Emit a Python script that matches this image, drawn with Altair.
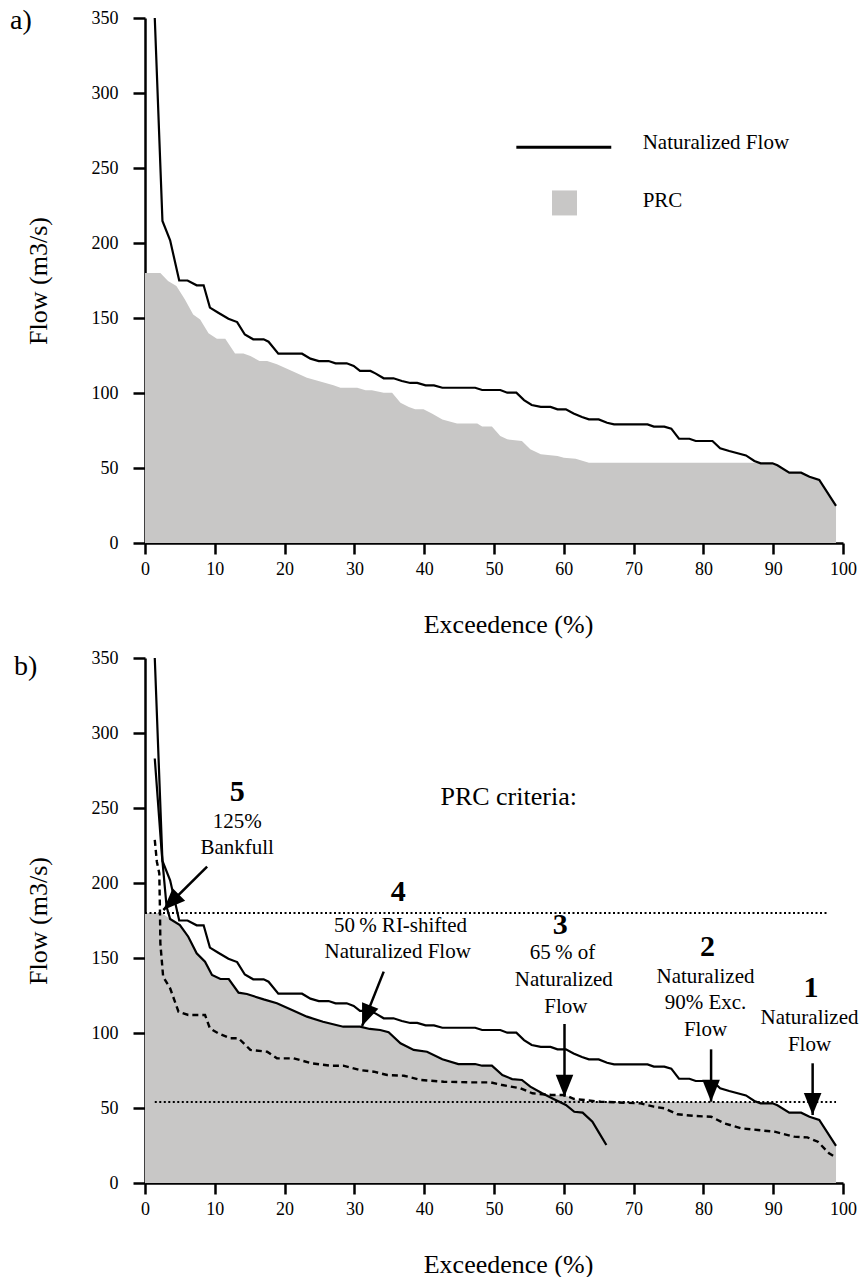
import altair as alt
import pandas as pd

FONT = "Liberation Serif"
GREY = "#c8c7c6"

# ---------------- data ----------------
# Naturalized flow duration curve (both panels)
nat_x = [1.4, 2.5, 3.6, 4.9, 6.1, 7.4, 8.4, 9.3, 10.5, 11.95, 13.2, 14.3, 15.5, 17, 17.7, 19.1,
         22.5, 23.7, 24.9, 26.3, 27.3, 28.9, 29.9, 30.8, 32.3, 33, 34.2, 35.6, 36.8, 38, 39, 40.2,
         41.4, 42.6, 47.3, 48.3, 50.9, 51.9, 53.2, 54.3, 55.4, 56.7, 58.1, 59.1, 60.3, 61.4, 62.6,
         63.6, 65, 66.2, 67.2, 72, 72.9, 74.4, 75.4, 76.5, 78, 78.9, 81.3, 82.4, 83.7, 86.1, 87.3,
         88.2, 89.9, 90.6, 92.3, 94, 95.2, 96.6, 99]
nat_y = [350, 214.7, 201.8, 175, 175, 171.8, 171.8, 156.9, 153.5, 149.5, 147.3, 139, 135.8, 135.8,
         134.2, 126.2, 126.2, 122.9, 121.3, 121.3, 119.8, 119.8, 118, 114.7, 114.7, 113.1, 109.8,
         109.8, 108, 106.7, 106.7, 105.1, 105.1, 103.5, 103.5, 102, 102, 100.2, 100.2, 95.3, 92,
         90.7, 90.7, 89.1, 89.1, 86.4, 84, 82.4, 82.4, 80.2, 79.1, 79.1, 77.6, 77.6, 76.2, 69.5,
         69.5, 68, 68, 63.1, 61.3, 58.4, 54.7, 53.1, 53.1, 51.8, 46.9, 46.9, 44.2, 42, 24.7]

# PRC, panel a
prc_a_x = [0, 2.2, 3.3, 4.5, 5.7, 6.9, 7.9, 9.1, 10.3, 11.5, 12.9, 14.1, 15.1, 16.4, 17.5, 18.9,
           21.3, 23.2, 24.6, 27, 28, 30.4, 31.6, 32.5, 34.2, 35.4, 36.6, 37.8, 38.7, 39.9, 41.1,
           42.6, 44.7, 47.6, 48.3, 49.7, 50.9, 51.9, 54, 55.2, 56.7, 59.1, 60, 61.7, 63.6, 87.3,
           88.2, 89.9, 90.6, 92.3, 94, 95.2, 96.6, 99]
prc_a_y = [180, 180, 174.7, 171.3, 162.5, 152.4, 149, 139.8, 136.2, 136.2, 126.4, 126.4, 124.7,
           121.3, 121.3, 119.1, 114.2, 110.2, 108.4, 105.1, 103.5, 103.5, 101.8, 101.8, 100.2,
           100.2, 93.5, 90.7, 89.1, 89.1, 86.4, 82.4, 79.6, 79.6, 77.6, 77.6, 71.3, 69.1, 68, 62.5,
           59.1, 58, 56.9, 56.2, 53.5, 53.5, 53.1, 53.1, 51.8, 46.9, 46.9, 44.2, 42, 24.7]

# 50% RI-shifted naturalized flow (panel b)
ri_x = [1.4, 2.4, 3.1, 3.6, 5, 6.2, 7.4, 8.6, 9.6, 10.8, 12, 13.4, 14.6, 17, 18.9, 21.3, 23.2,
        25.5, 28.4, 30.8, 32.2, 33.7, 34.9, 36.6, 38.5, 40.4, 42.6, 44.9, 47.3, 48.3, 49.7, 51.2,
        52.6, 54, 55.2, 56.9, 58.6, 60.3, 61.5, 62.7, 64.1, 65.1, 66.1]
ri_y = [283, 219.8, 184, 176, 172, 164.2, 153.1, 147.5, 138.7, 136, 136, 126.9, 126, 122.4, 119.8,
        114.9, 110.9, 107.5, 104.2, 104.2, 102.7, 102, 100.5, 93.1, 88.7, 87.5, 82.5, 79.3, 79.3,
        78.2, 78.2, 72, 69.3, 68.7, 64.2, 59.8, 55.8, 52, 47.5, 46.9, 40.9, 33.1, 25.3]

# 65% of naturalized flow (dashed, panel b)
p65_x = [1.4, 1.7, 2.05, 2.15, 2.2, 2.6, 3.6, 4.8, 6.2, 8.6, 9.3, 10.5, 12.2, 13.4, 15.1, 17.5,
         18.9, 21.3, 23.9, 26.5, 28.4, 30.8, 32.8, 34.7, 37.1, 39.5, 42.8, 46.6, 49.5, 51.2, 53.8,
         55.5, 58.2, 60.1, 61.5, 65.3, 71, 72.9, 74.4, 76.3, 78.7, 81.1, 83, 85.4, 87.8, 90.2, 93,
         94.9, 96.4, 98, 98.8]
p65_y = [228.7, 214.2, 206.4, 179.8, 159.8, 137.5, 129.8, 114.2, 112, 112, 103.1, 99.8, 96.5,
         96.5, 88.7, 87.5, 83.1, 83.1, 79.8, 78.2, 78.2, 75.3, 74.2, 72, 71.5, 68.7, 67.5, 67.1,
         67.1, 65.3, 63.1, 59.8, 58.7, 58.7, 56, 54.2, 53.1, 50.9, 49.8, 45.8, 44.7, 44.2, 39.8,
         36.5, 35.3, 34.2, 30.9, 30.4, 27.5, 19.8, 17.5]

# PRC, panel b
prc_b_x = [0, 2.4, 3.6, 5, 6.2, 7.4, 8.6, 9.6, 10.8, 12, 13.4, 14.6, 17, 18.9, 21.3, 23.2, 25.5,
           28.4, 30.8, 32.2, 33.7, 34.9, 36.6, 38.5, 40.4, 42.6, 44.9, 47.3, 48.3, 49.7, 51.2,
           52.6, 54, 55.2, 56.9, 58.2, 60.1, 61.5, 62.9, 87.8, 88.2, 89.9, 90.6, 92.3, 94, 95.2,
           96.6, 99]
prc_b_y = [180, 180, 176, 172, 164.2, 153.1, 147.5, 138.7, 136, 136, 126.9, 126, 122.4, 119.8,
           114.9, 110.9, 107.5, 104.2, 104.2, 102.7, 102, 100.5, 93.1, 88.7, 87.5, 82.5, 79.3,
           79.3, 78.2, 78.2, 72, 69.3, 68.7, 64.2, 59.8, 58.7, 58.7, 56, 54, 54, 53.1, 53.1, 51.8,
           46.9, 46.9, 44.2, 42, 24.7]

# criterion levels (dotted): 125% bankfull and naturalized 90% exceedence flow
level_names = ["bankfull125", "nat90"]
level_value = [180, 54]
level_from = [0, 1.4]
level_to = [97.8, 99]

# annotations panel b
num_labels = ["5", "4", "3", "2", "1"]
num_x = [13.2, 36.3, 59.5, 80.6, 95.4]
num_y = [260.9, 194.2, 172.0, 157.5, 129.8]

note_labels = ["125%", "Bankfull", "50\u2009% RI-shifted", "Naturalized Flow", "65\u2009% of",
               "Naturalized", "Flow", "Naturalized", "90% Exc.", "Flow", "Naturalized", "Flow"]
note_x = [13.2, 13.2, 36.6, 36.2, 59.8, 60.0, 60.3, 80.3, 80.3, 80.3, 95.2, 95.2]
note_y = [240.9, 223.1, 171.3, 154.2, 153.1, 135.3, 117.5, 137.1, 119.8, 102.0, 109.8, 92.0]

arrow_tail_x = [8.9, 34.2, 60.1, 81.1, 95.65]
arrow_tail_y = [210.9, 140.9, 106.0, 89.1, 79.8]
arrow_tip_x = [2.63, 31.1, 60.1, 81.1, 95.65]
arrow_tip_y = [182.0, 104.7, 57.5, 54.2, 45.3]
arrow_angle = [45, 21.7, 0, 0, 0]

# legend (panel a)
leg_line_x = [53.2]
leg_line_x2 = [66.8]
leg_line_y = [263.9]
leg_box_x = [60.1]
leg_box_y = [226.7]
leg_text = ["Naturalized Flow", "PRC"]
leg_text_x = [71.3, 71.3]
leg_text_y = [266.8, 227.9]

# ---------------- frames ----------------
nat_df = pd.DataFrame({"x": nat_x, "y": nat_y, "i": range(len(nat_x))})
prc_a_df = pd.DataFrame({"x": prc_a_x, "y": prc_a_y})
prc_b_df = pd.DataFrame({"x": prc_b_x, "y": prc_b_y})
ri_df = pd.DataFrame({"x": ri_x, "y": ri_y, "i": range(len(ri_x))})
p65_df = pd.DataFrame({"x": p65_x, "y": p65_y, "i": range(len(p65_x))})
lvl_df = pd.DataFrame({"name": level_names, "x": level_from, "x2": level_to, "y": level_value})
num_df = pd.DataFrame({"x": num_x, "y": num_y, "t": num_labels})
note_df = pd.DataFrame({"x": note_x, "y": note_y, "t": note_labels})
arr_df = pd.DataFrame({"x": arrow_tail_x, "y": arrow_tail_y, "x2": arrow_tip_x,
                       "y2": arrow_tip_y, "a": arrow_angle})
crit_df = pd.DataFrame({"x": [52.1], "y": [257.5], "t": ["PRC criteria:"]})
leg_line_df = pd.DataFrame({"x": leg_line_x, "x2": leg_line_x2, "y": leg_line_y})
leg_box_df = pd.DataFrame({"x": leg_box_x, "y": leg_box_y})
leg_text_df = pd.DataFrame({"x": leg_text_x, "y": leg_text_y, "t": leg_text})

# ---------------- scales / axes ----------------
xscale = alt.Scale(domain=[0, 100], nice=False, zero=False)
yscale = alt.Scale(domain=[0, 350], nice=False)

xaxis = alt.Axis(values=list(range(0, 101, 10)), title="Exceedence (%)", grid=False,
                 tickSize=11, tickWidth=2.5, tickColor="black", domainWidth=2.5,
                 domainColor="black", labelFont=FONT, labelFontSize=18, labelColor="black",
                 labelPadding=15, labelBaseline="middle", labelFlush=False, labelOverlap=False,
                 titleFont=FONT, titleFontSize=26, titleFontWeight="normal", titleColor="black",
                 titleX=363, titleY=81, titleBaseline="middle", titleAlign="center")
yaxis = alt.Axis(values=list(range(0, 351, 50)), title="Flow (m3/s)", grid=False,
                 tickSize=12, tickWidth=2.5, tickColor="black", domainWidth=2.5,
                 domainColor="black", labelFont=FONT, labelFontSize=18, labelColor="black",
                 labelPadding=15, labelFlush=False, labelOverlap=False,
                 titleFont=FONT, titleFontSize=26, titleFontWeight="normal", titleColor="black",
                 titleX=-107, titleY=262.5, titleAngle=270, titleBaseline="middle",
                 titleAlign="center")


def X(f="x"):
    return alt.X(f"{f}:Q", scale=xscale, axis=xaxis)


def Y(f="y"):
    return alt.Y(f"{f}:Q", scale=yscale, axis=yaxis)


W, H = 698, 525


def label(txt, dx, dy):
    return alt.Chart(pd.DataFrame({"t": [txt]})).mark_text(
        font=FONT, fontSize=28, align="left", baseline="middle", color="black"
    ).encode(x=alt.value(dx), y=alt.value(dy), text="t:N")


def nat_line():
    return alt.Chart(nat_df).mark_line(color="black", strokeWidth=2.2).encode(
        x=X(), y=Y(), order="i:Q")


# ---------------- panel a ----------------
area_a = alt.Chart(prc_a_df).mark_area(color=GREY, opacity=1).encode(x=X(), y=Y())
leg_line = alt.Chart(leg_line_df).mark_rule(color="black", strokeWidth=3).encode(
    x=X(), x2="x2:Q", y=Y())
leg_box = alt.Chart(leg_box_df).mark_square(color=GREY, size=625, opacity=1).encode(x=X(), y=Y())
leg_txt = alt.Chart(leg_text_df).mark_text(
    font=FONT, fontSize=21, align="left", baseline="middle", color="black"
).encode(x=X(), y=Y(), text="t:N")

panel_a = alt.layer(area_a, nat_line(), leg_line, leg_box, leg_txt,
                    label("a)", -135, 3)).properties(width=W, height=H)

# ---------------- panel b ----------------
area_b = alt.Chart(prc_b_df).mark_area(color=GREY, opacity=1).encode(x=X(), y=Y())
levels = alt.Chart(lvl_df).mark_rule(color="black", strokeWidth=2.2,
                                     strokeDash=[2, 2.5]).encode(x=X(), x2="x2:Q", y=Y())
p65 = alt.Chart(p65_df).mark_line(color="black", strokeWidth=2.4, strokeDash=[6, 4]).encode(
    x=X(), y=Y(), order="i:Q")
ri = alt.Chart(ri_df).mark_line(color="black", strokeWidth=2.2).encode(
    x=X(), y=Y(), order="i:Q")
shafts = alt.Chart(arr_df).mark_rule(color="black", strokeWidth=2.5).encode(
    x=X(), y=Y(), x2="x2:Q", y2="y2:Q")
heads = alt.Chart(arr_df).mark_point(
    shape="M0,0 L-0.8,-2 L0.8,-2 Z", filled=True, color="black", opacity=1, size=484,
    strokeWidth=0
).encode(x=X("x2"), y=Y("y2"), angle=alt.Angle("a:Q", scale=None))
nums = alt.Chart(num_df).mark_text(
    font=FONT, fontSize=30, fontWeight="bold", align="center", baseline="middle", color="black"
).encode(x=X(), y=Y(), text="t:N")
notes = alt.Chart(note_df).mark_text(
    font=FONT, fontSize=21, align="center", baseline="middle", color="black"
).encode(x=X(), y=Y(), text="t:N")
crit = alt.Chart(crit_df).mark_text(
    font=FONT, fontSize=26, align="center", baseline="middle", color="black"
).encode(x=X(), y=Y(), text="t:N")

panel_b = alt.layer(area_b, levels, p65, ri, nat_line(), shafts, heads, nums, notes, crit,
                    label("b)", -131, 9)).properties(width=W, height=H)

chart = alt.vconcat(panel_a, panel_b, spacing=12).properties(
    padding={"left": 10, "top": 7, "right": 0, "bottom": 0},
    background="white",
).configure_view(stroke=None)

chart.save("out.html", embed_options={"renderer": "svg", "actions": False})
